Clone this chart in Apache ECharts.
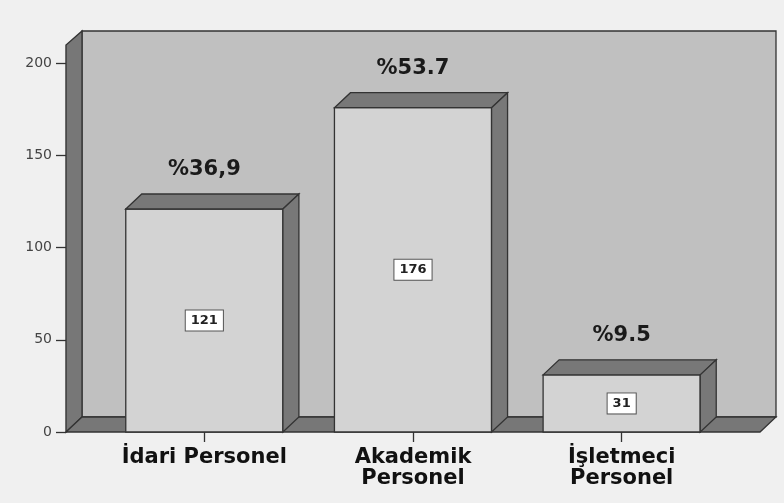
<!DOCTYPE html>
<html>
<head>
<meta charset="utf-8">
<script src="https://cdn.jsdelivr.net/npm/echarts@6/dist/echarts.min.js"></script>
<style>
    html, body { margin: 0; padding: 0; background: #f0f0f0; }
    #chart { width: 784px; height: 503px; }
</style>
</head>
<body>
<div id="chart"></div>
<script>
// data
var categories = ['İdari Personel', 'Akademik Personel', 'İşletmeci Personel'];
var counts = [121, 176, 31];
var percentLabels = ['%36,9', '%53.7', '%9.5'];
var yTicks = [0, 50, 100, 150, 200];

var DX = 16, DY = 15;   // 3d depth offset
var EDGE = '#333';
var chart = echarts.init(document.getElementById('chart'));

function edgeStyle (fill) {
    return { fill: fill, stroke: EDGE, lineWidth: 1.3 };
}

// back wall, left wall and floor, drawn from the grid rect
function renderWalls (params, api) {
    var c = params.coordSys;
    var l = c.x, r = c.x + c.width, t = c.y, b = c.y + c.height;
    return {
        type: 'group',
        children: [
            { type: 'rect', shape: { x: l + DX, y: t - DY + 1, width: c.width, height: c.height - 1 }, style: edgeStyle('#c0c0c0') },
            { type: 'polygon', shape: { points: [[l, b], [l, t], [l + DX, t - DY + 1], [l + DX, b - DY]] }, style: edgeStyle('#777') },
            { type: 'polygon', shape: { points: [[l, b], [l + DX, b - DY], [r + DX, b - DY], [r, b]] }, style: edgeStyle('#777') }
        ]
    };
}

function renderBar (params, api) {
    var i = api.value(0), v = api.value(1);
    var top = api.coord([i, v]);
    var base = api.coord([i, 0]);
    var w = api.size([1, 0])[0] * 0.753;
    var xl = top[0] - w / 2, xr = top[0] + w / 2, yt = top[1], yb = base[1];
    return {
        type: 'group',
        children: [
            { type: 'rect', shape: { x: xl, y: yt, width: w, height: yb - yt }, style: edgeStyle('#d3d3d3') },
            { type: 'polygon', shape: { points: [[xl, yt], [xl + DX, yt - DY], [xr + DX, yt - DY], [xr, yt]] }, style: edgeStyle('#787878') },
            { type: 'polygon', shape: { points: [[xr, yt], [xr + DX, yt - DY], [xr + DX, yb - DY], [xr, yb]] }, style: edgeStyle('#787878') },
            {
                type: 'text', x: top[0], y: (yt + yb) / 2,
                style: {
                    text: String(v), fill: '#222', font: 'bold 13px "DejaVu Sans"',
                    align: 'center', verticalAlign: 'middle',
                    backgroundColor: '#fff', borderColor: '#555', borderWidth: 1, padding: [4, 5, 3, 5]
                }
            },
            {
                type: 'text', x: top[0], y: yt - 39,
                style: {
                    text: percentLabels[i], fill: '#1a1a1a', font: 'bold 21px "DejaVu Sans"',
                    align: 'center', verticalAlign: 'middle'
                }
            }
        ]
    };
}

var option = {
    animation: false,
    backgroundColor: '#f0f0f0',
    grid: [
        { left: 66, right: 24, top: 45, bottom: 71 },   // walls + value axis
        { left: 100, right: 58, top: 45, bottom: 71 }   // bars + categories
    ],
    xAxis: [
        { gridIndex: 0, type: 'value', min: 0, max: 1, show: false },
        {
            gridIndex: 1,
            type: 'category',
            data: categories,
            axisLine: { show: false },
            axisTick: { show: true, alignWithLabel: true, length: 10, lineStyle: { color: EDGE, width: 1.3 } },
            axisLabel: {
                interval: 0,
                margin: 15,
                color: '#111',
                fontFamily: 'DejaVu Sans',
                fontWeight: 'bold',
                fontSize: 21,
                lineHeight: 21,
                formatter: function (name) {
                    // the longer names wrap onto two lines
                    return name.length > 15 ? name.replace(' ', '\n') : name;
                }
            }
        }
    ],
    yAxis: [
        {
            gridIndex: 0,
            type: 'value',
            min: 0,
            max: 210,
            interval: 50,
            axisLine: { show: true, lineStyle: { color: EDGE, width: 1.3 } },
            axisTick: { show: true, length: 10, customValues: yTicks, lineStyle: { color: EDGE, width: 1.3 } },
            axisLabel: { customValues: yTicks, margin: 14, color: '#444', fontFamily: 'DejaVu Sans', fontSize: 14 },
            splitLine: { show: false }
        },
        { gridIndex: 1, type: 'value', min: 0, max: 210, show: false }
    ],
    series: [
        {
            type: 'custom',
            xAxisIndex: 0,
            yAxisIndex: 0,
            z: 1,
            silent: true,
            data: [[0, 0]],
            renderItem: renderWalls
        },
        {
            type: 'custom',
            xAxisIndex: 1,
            yAxisIndex: 1,
            z: 3,
            data: counts.map(function (v, i) { return [i, v]; }),
            renderItem: renderBar
        }
    ]
};
chart.setOption(option);
</script>
</body>
</html>
